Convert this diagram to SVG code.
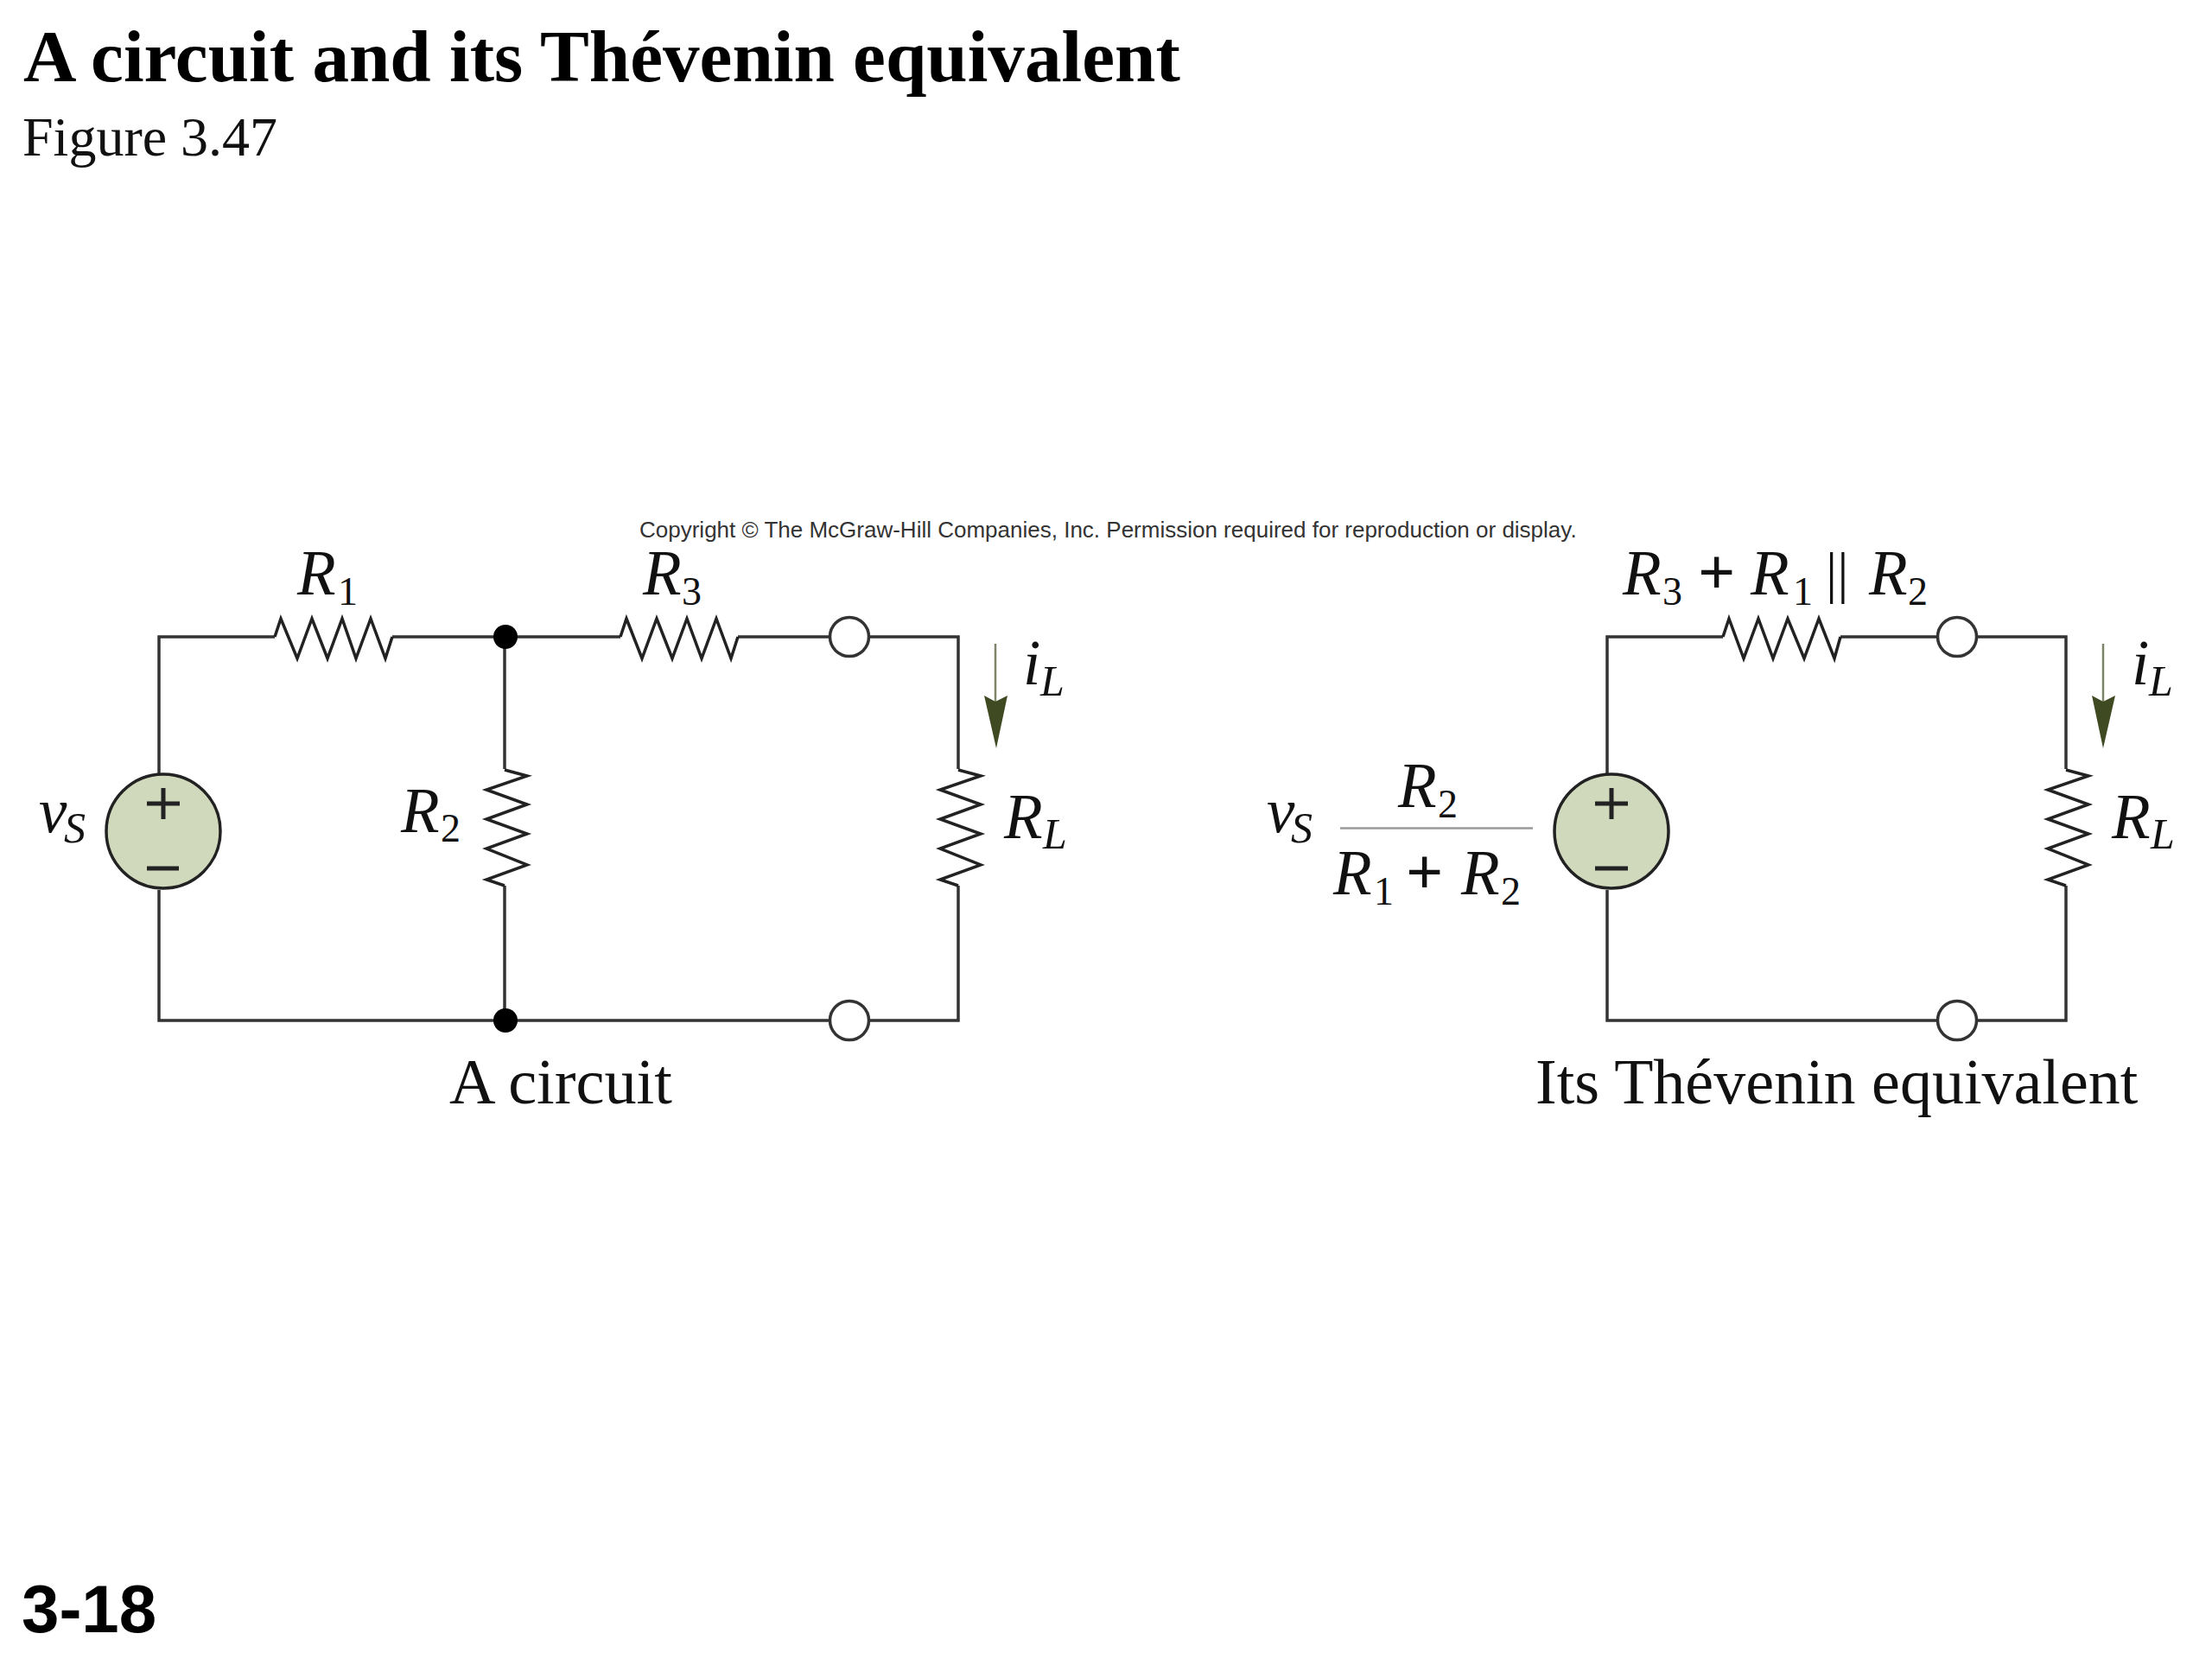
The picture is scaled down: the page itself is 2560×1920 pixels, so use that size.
<svg xmlns="http://www.w3.org/2000/svg" width="2560" height="1920" viewBox="0 0 2560 1920">
<style>
text{font-family:"Liberation Serif","Times New Roman",serif;fill:#111}
.title{font-size:85.2px;font-weight:700;fill:#000}
.sub{font-size:64px}
.page{font-family:"Liberation Sans",Arial,sans-serif;font-size:78px;font-weight:700;fill:#000}
.copy{font-family:"Liberation Sans",Arial,sans-serif;font-size:26px;fill:#333}
.cap{font-size:74.3px}
.cap2{font-size:74px}
.v{font-size:73px;font-style:italic}
.s{font-size:46px}
.si{font-size:50px;font-style:italic}
.o{font-size:76px;font-weight:700}
.pp{font-size:66px}
.w{fill:none;stroke:#333;stroke-width:3.5}
.r{fill:none;stroke:#222;stroke-width:3.5;stroke-linejoin:miter}
.src{fill:#d1d9bd;stroke:#222;stroke-width:3.5}
.sign{stroke:#222;stroke-width:5;fill:none}
.dot{fill:#000}
.open{fill:#fff;stroke:#333;stroke-width:3.5}
.shaft{stroke:#7d8568;stroke-width:2.5;fill:none}
.head{fill:#3f4a22}
</style>
<rect width="2560" height="1920" fill="#fff"/>
<text class="title" x="27" y="94">A circuit and its Thévenin equivalent</text>
<text class="sub" x="26" y="180">Figure 3.47</text>
<text class="page" x="25" y="1889">3-18</text>
<text class="copy" x="740" y="622">Copyright © The McGraw-Hill Companies, Inc. Permission required for reproduction or display.</text>

<g id="connectors">
<path class="w" d="M184 895V737H318M454 737H718M854 737H960M1006 737H1109V890M1109 1025V1181H1006M960 1181H184V1030"/>
<path class="w" d="M584 737V890M584 1025V1181"/>
<path class="w" d="M1860 895V737H1994M2130 737H2243M2287 737H2391V890M2391 1025V1181H2287M2243 1181H1860V1030"/>
<path class="shaft" d="M1152 745V815"/>
<path class="shaft" d="M2434 745V815"/>
</g>

<g id="source-left"><circle class="src" cx="189" cy="962" r="66"/><path class="sign" d="M170 930H208M189 912V948M170 1005H207"/></g>
<g id="source-right"><circle class="src" cx="1865" cy="962" r="66"/><path class="sign" d="M1846 930H1884M1865 912V948M1846 1005H1884"/></g>
<g id="r1"><polyline class="r" points="318,737 325,716 344,762 361,716 379,762 396,716 412,762 429,716 446,762 454,737"/></g>
<g id="r3"><polyline class="r" points="718,737 725,716 743,762 760,716 778,762 795,716 812,762 829,716 846,762 854,737"/></g>
<g id="r-eq"><polyline class="r" points="1994,737 2001,716 2018,762 2035,716 2052,762 2069,716 2088,762 2105,716 2123,762 2130,737"/></g>
<g id="r2"><polyline class="r" points="584,891 610,898 563,914 610,931 563,948 610,965 563,982 610,1001 563,1018 584,1025"/></g>
<g id="rl-left"><polyline class="r" points="1109,891 1135,898 1088,914 1135,931 1088,948 1135,965 1088,982 1135,1001 1088,1018 1109,1025"/></g>
<g id="rl-right"><polyline class="r" points="2391,891 2417,898 2370,914 2417,931 2370,948 2417,965 2370,982 2417,1001 2370,1018 2391,1025"/></g>
<g id="node-top"><circle class="dot" cx="585" cy="737" r="14"/></g>
<g id="node-bottom"><circle class="dot" cx="585" cy="1181" r="14"/></g>
<g id="term-top-left"><circle class="open" cx="983" cy="737" r="22.5"/></g>
<g id="term-bottom-left"><circle class="open" cx="983" cy="1181" r="22.5"/></g>
<g id="term-top-right"><circle class="open" cx="2265" cy="737" r="22.5"/></g>
<g id="term-bottom-right"><circle class="open" cx="2265" cy="1181" r="22.5"/></g>
<g id="arrow-left"><polygon class="head" points="1139,805 1152,812 1166,805 1153,866"/></g>
<g id="arrow-right"><polygon class="head" points="2421,805 2434,812 2448,805 2434,866"/></g>

<g id="labels-left">
<text x="344" y="688"><tspan class="v">R</tspan><tspan class="s" x="391" y="700">1</tspan></text>
<text x="744" y="688"><tspan class="v">R</tspan><tspan class="s" x="789" y="700">3</tspan></text>
<text x="464" y="963"><tspan class="v">R</tspan><tspan class="s" x="510" y="974">2</tspan></text>
<text x="45" y="963"><tspan class="v">v</tspan><tspan class="si" x="74" y="975">S</tspan></text>
<text x="1184" y="792"><tspan class="v">i</tspan><tspan class="si" x="1204" y="805">L</tspan></text>
<text x="1162" y="970"><tspan class="v">R</tspan><tspan class="si" x="1207" y="982">L</tspan></text>
<text class="cap" x="520" y="1277">A circuit</text>
</g>
<g id="labels-right">
<text x="1878" y="688"><tspan class="v">R</tspan><tspan class="s" x="1924" y="700">3</tspan><tspan class="o" x="1965" y="688">+</tspan><tspan class="v" x="2026" y="688">R</tspan><tspan class="s" x="2075" y="700">1</tspan><tspan class="pp" x="2113" y="685">||</tspan><tspan class="v" x="2163" y="688">R</tspan><tspan class="s" x="2208" y="700">2</tspan></text>
<text x="1466" y="963"><tspan class="v">v</tspan><tspan class="si" x="1494" y="975">S</tspan></text>
<text x="1618" y="934"><tspan class="v">R</tspan><tspan class="s" x="1664" y="946">2</tspan></text>
<line x1="1551" y1="958.5" x2="1774" y2="958.5" stroke="#999" stroke-width="2.5"/>
<text x="1543" y="1035"><tspan class="v">R</tspan><tspan class="s" x="1590" y="1047">1</tspan><tspan class="o" x="1627" y="1035">+</tspan><tspan class="v" x="1691" y="1035">R</tspan><tspan class="s" x="1737" y="1047">2</tspan></text>
<text x="2467" y="792"><tspan class="v">i</tspan><tspan class="si" x="2487" y="805">L</tspan></text>
<text x="2444" y="970"><tspan class="v">R</tspan><tspan class="si" x="2489" y="982">L</tspan></text>
<text class="cap2" x="1777" y="1277">Its Thévenin equivalent</text>
</g>
</svg>
